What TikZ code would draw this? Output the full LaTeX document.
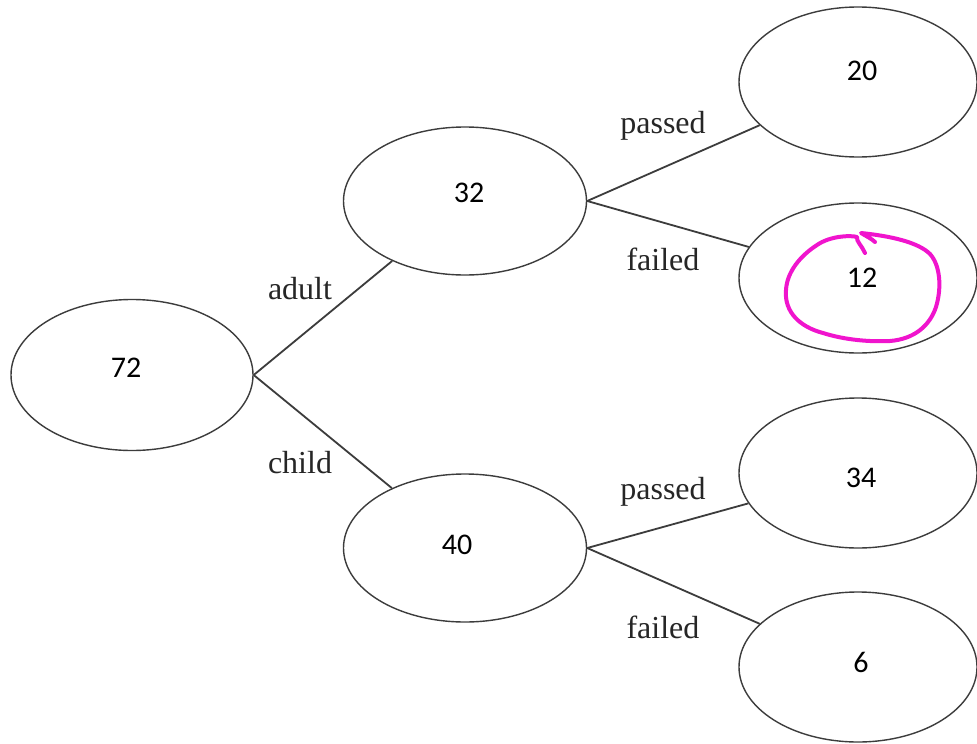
\documentclass[tikz,border=0pt]{standalone}
\usepackage{fontspec}
\setmainfont{Liberation Serif}
\newfontfamily\numfont{Carlito}
\usetikzlibrary{shapes.geometric}
\definecolor{edgegray}{RGB}{60,60,60}
\definecolor{pinkmark}{RGB}{240,20,205}
\tikzset{
  oval/.style={ellipse, draw=edgegray, line width=1.4pt, inner sep=0pt, minimum width=#1, minimum height=150pt},
  numtext/.style={font=\numfont\fontsize{30}{33}\selectfont, text=black, inner sep=0pt},
  edgetext/.style={font=\fontsize{32}{35}\selectfont, text=black!85, inner sep=0pt},
  conn/.style={draw=edgegray, line width=1.8pt}
}
\begin{document}
\begin{tikzpicture}[x=1pt,y=-1pt]
\useasboundingbox (0,0) rectangle (977,744);
\fill[white] (0,0) rectangle (977,744);
% ellipses
\node[oval=242pt, minimum height=151pt] (n72) at (132,375) {};
\node[oval=243pt, minimum height=148pt] (n32) at (465,201) {};
\node[oval=243pt, minimum height=148pt] (n40) at (465,548) {};
\node[oval=238pt] (n20) at (858,82) {};
\node[oval=238pt] (n12) at (858,278) {};
\node[oval=238pt] (n34) at (858,473) {};
\node[oval=238pt] (n6) at (858,667) {};
% numbers
\node[numtext] (t72) at (126,368) {72};
\node[numtext] (t32) at (469,193) {32};
\node[numtext] (t40) at (457,545) {40};
\node[numtext] (t20) at (862,71) {20};
\node[numtext] (t12) at (862,278) {12};
\node[numtext] (t34) at (861,478) {34};
\node[numtext] (t6) at (861,662) {6};
% connectors
\draw[conn] (n72.east) -- (n32);
\draw[conn] (n72.east) -- (n40);
\draw[conn] (n32.east) -- (n20);
\draw[conn] (n32.east) -- (n12);
\draw[conn] (n40.east) -- (n34);
\draw[conn] (n40.east) -- (n6);
% edge labels
\node[edgetext] (ladult) at (300,289) {adult};
\node[edgetext] (lchild) at (300,463) {child};
\node[edgetext] (lp1) at (663,126) {passed};
\node[edgetext] (lf1) at (663,259) {failed};
\node[edgetext] (lp2) at (663,492) {passed};
\node[edgetext] (lf2) at (663,627) {failed};
% hand-drawn pink loop
\draw[pinkmark, line width=4pt, line cap=round, line join=round]
  (865,253) .. controls (862,246) and (856,241) .. (857,237)
  .. controls (850,235) and (830,236) .. (817,245)
  .. controls (800,256) and (787,272) .. (786,290)
  .. controls (784,312) and (800,327) .. (823,333)
  .. controls (845,340) and (870,342) .. (890,341)
  .. controls (915,339) and (930,325) .. (936,307)
  .. controls (942,287) and (940,265) .. (930,254)
  .. controls (918,242) and (890,236) .. (861,233)
  .. controls (866,236) and (872,239) .. (875,242);
\end{tikzpicture}
\end{document}
